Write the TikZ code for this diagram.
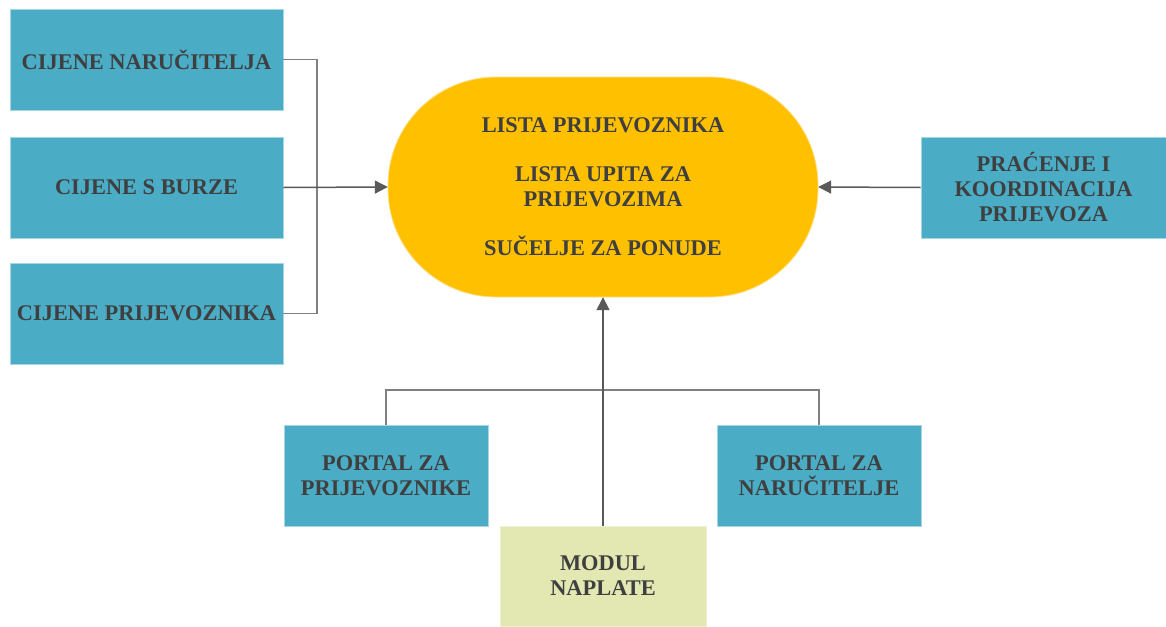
\documentclass[tikz,border=0pt]{standalone}
\usepackage{fontspec}
\setmainfont{Liberation Serif}
\usetikzlibrary{arrows.meta}
\definecolor{boxblue}{HTML}{4BACC6}
\definecolor{boxedge}{HTML}{A6D6E6}
\definecolor{ovalyellow}{HTML}{FFC000}
\definecolor{ovaledge}{HTML}{FFE08A}
\definecolor{modgreen}{HTML}{E3E8B2}
\definecolor{modedge}{HTML}{EEF1D0}
\definecolor{txt}{HTML}{3F3F3F}
\definecolor{linegray}{HTML}{808080}
\definecolor{tipgray}{HTML}{595959}
\begin{document}
\begin{tikzpicture}[x=1pt,y=-1pt,
  every node/.style={font=\fontsize{22.4}{25}\selectfont\bfseries, text=txt, align=center, inner sep=0pt},
  bluebox/.style={rectangle, fill=boxblue, draw=boxedge, line width=0.8pt},
  greenbox/.style={rectangle, fill=modgreen, draw=modedge, line width=0.8pt},
  oval/.style={fill=ovalyellow, draw=ovaledge, line width=0.8pt},
  conn/.style={draw=linegray, line width=1.5pt},
  arr/.style={conn, -{Triangle[length=13pt,width=13pt]}, tipgray}
]
\useasboundingbox (0,0) rectangle (1166,626);
\fill[white] (0,0) rectangle (1166,626);

% left boxes
\node[bluebox, minimum width=273pt, minimum height=101pt] (n1) at (146.5,59.5) {CIJENE NARUČITELJA};
\node[bluebox, minimum width=273pt, minimum height=101pt] (n2) at (146.5,187.5) {CIJENE S BURZE};
\node[bluebox, minimum width=273pt, minimum height=101pt] (n3) at (146.5,313.5) {CIJENE PRIJEVOZNIKA};

% central oval
\draw[oval, rounded corners=108pt] (388,77) rectangle (818,297);
\node[minimum width=430pt, minimum height=220pt] (st) at (603,187) {LISTA PRIJEVOZNIKA\\[24pt]LISTA UPITA ZA\\PRIJEVOZIMA\\[24pt]SUČELJE ZA PONUDE};

% right box
\node[bluebox, minimum width=245pt, minimum height=101pt] (pr) at (1043.5,187.5) {PRAĆENJE I\\KOORDINACIJA\\PRIJEVOZA};

% bottom boxes
\node[bluebox, minimum width=204pt, minimum height=101pt] (pp) at (386,475.5) {PORTAL ZA\\PRIJEVOZNIKE};
\node[bluebox, minimum width=204pt, minimum height=101pt] (pn) at (819,475.5) {PORTAL ZA\\NARUČITELJE};
\node[greenbox, minimum width=206pt, minimum height=100pt] (mod) at (603,576) {MODUL\\NAPLATE};

% junction coordinates
\coordinate (j1) at (317,187.5);
\coordinate (j2) at (603,390);

% connectors
\draw[conn] (n1.east) -| (j1) |- (n3.east);
\draw[arr] (n2.east) -- (st.west);
\draw[arr] (pr.west) -- (st.east);
\draw[conn] (pp.north) |- (j2) -| (pn.north);
\draw[arr] (mod.north) -- (st.south);
\end{tikzpicture}
\end{document}
